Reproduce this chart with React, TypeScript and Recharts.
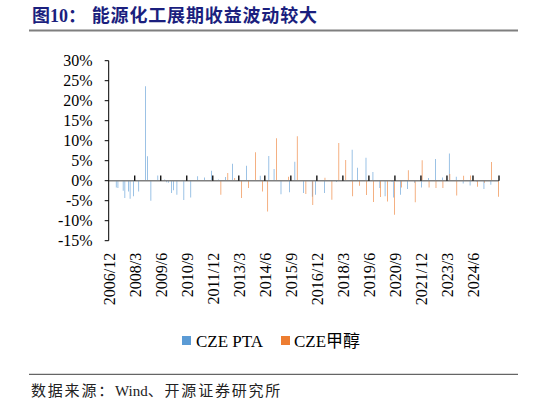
import { BarChart, Bar, XAxis, YAxis, ReferenceLine } from "recharts";

// CZE roll yield, monthly, 2006/12 .. 2025/8 (values in %)
const startYear = 2006;
const startMonth = 12;
const monthCount = 225;

const months: string[] = [];
for (let k = 0; k < monthCount; k++) {
  const m = startMonth - 1 + k;
  months.push(`${startYear + Math.floor(m / 12)}/${(m % 12) + 1}`);
}

const xTickLabels = [
  "2006/12", "2008/3", "2009/6", "2010/9", "2011/12", "2013/3", "2014/6", "2015/9",
  "2016/12", "2018/3", "2019/6", "2020/9", "2021/12", "2023/3", "2024/6",
];

const yTicks = [-15, -10, -5, 0, 5, 10, 15, 20, 25, 30];

const seriesNames = ["CZE PTA", "CZE甲醇"];

// one row = 15 months
const ptaValues = [
  0, 0, 0, 0, -1.7, -1.8, 0, 0, -2.5, -4.3, 0, -2.7, -4.5, 0, -3.9,
  0, 0, -2.7, 0, 0, 0, 23.6, 6.1, 0, -5.0, 0, 0, 0, 1.3, 0,
  0, 0, 0.3, -0.4, -0.5, 0, -3.1, -2.4, 0, -3.5, 0, 0, 0, -4.8, 0,
  0, 0, -4.2, 0, 0, 0, 1.1, 0, 0, 0, 0.8, 0, 0, 0, 2.5,
  0, 0, 0, 0.3, 0, 0, 0, 0.9, 0, 0, 0, 4.25, 0, 0, 0,
  0, 0, 0, 0, 3.75, 0, 0, 0, 0, 0, 0, 0, 1.25, 0, 0,
  0, 0, 6.2, 0, 0, 2.9, 0, 0, 0, -3.4, 0, 0, 0, 0, -2.9,
  0, 0, 4.75, 0, 0, 0, 0, -3.1, 0, 0, 0, 0, -4.0, 0, -3.5,
  0, 0, 0, 0, -3.1, 0, 0, 0, 0, 0, 0, -0.3, 0, 0, 0,
  0, 0, 0, 0, 0, 7.75, 0, 0, 3.25, 0, 0, 0, 0, 5.75, 0,
  0, 0, 2.2, 0, 0, 0, -1.8, 0, 0, -3.9, 0, 0, 0, -0.3, -4.2,
  0, 0, 0, -3.5, 0, 0, 0, -2.1, 0, 0, 0, -0.5, 0, 0, 0,
  -1.7, 0, 0, 0, 0.7, 0, 0, 0, 5.4, 0, 0, 0, 0.8, 0, 0,
  0, 6.8, 0, 0, 0, 1.0, 0, 0, 0, -0.7, 0, 0, 0, -1.2, 0,
  0, 0, -0.3, 0, 0, 0, -2.1, 0, 0, 0, -1.0, 0, 0, 0, 0,
];

const methanolValues = [
  0, 0, 0, 0, 0, 0, 0, 0, 0, 0, 0, 0, 0, 0, 0,
  0, 0, 0, 0, 0, 0, 0, 0, 0, 0, 0, 0, 0, 0, 0,
  0, 0, 0, 0, 0, 0, 0, 0, 0, 0, 0, 0, 0, 0, 0,
  0, 0, 0, 0, 0, 0, 0, 0, 0, 0, 0, 0, 0, 0, 0,
  0, 0, 0, 0, -3.5, 0, 0, 0, 1.9, 0, 0, 0, 0.7, 0, 0,
  0, -4.3, 0, 0, 0, -1.8, 0, 0, 0, 7.1, 0, 0, 0, -2.7, 0,
  0, -7.7, 0, 0, 0, 0, 10.6, 0, 0, 0, 0, 0, 0, 1.0, 0,
  0, 0, 0, 11.1, 0, 0, 0, 0, -3.3, 0, 0, 0, -6.1, 0, 0,
  0, 0, 0, 0, 0.75, 0, 0, 0, -4.75, 0, 0, 0, 9.4, 0, 0,
  0, 5.2, 0, 0, 0, -3.9, 0, 0, 0, -1.25, 0, 0, 0, -3.6, 0,
  0, 0, -5.3, 0, 0, 0, -4.1, 0, 0, 0, -5.2, 0, 0, 0, -8.5,
  0, 0, 0, -1.7, 0, 0, 0, 2.6, 0, 0, 0, -5.4, 0, 0, 0,
  5.1, 0, 0, 0, -1.7, 0, 0, 0, -1.8, 0, 0, 0, -1.8, 0, 0,
  0, 1.7, 0, 0, 0, -3.7, 0, 0, 0, 1.25, 0, 0, 0, 1.3, 0,
  0, 0, -1.5, 0, 0, 0, -0.5, 0, 0, 0, 4.7, 0, 0, 0, -4.0,
];

const data = months.map((month, i) => ({
  month,
  pta: ptaValues[i],
  methanol: methanolValues[i],
}));

const BLUE = "#5B9BD5";
const ORANGE = "#ED7D31";
const SERIF = '"Liberation Serif", "Times New Roman", serif';
const TITLE_FONT = '"Liberation Serif", "Noto Sans CJK SC", serif';

function XTick(props: any) {
  const { x, y, payload } = props;
  return (
    <text
      x={x}
      y={y}
      transform={`rotate(-90, ${x}, ${y})`}
      textAnchor="end"
      dominantBaseline="central"
      fontFamily={SERIF}
      fontSize={16}
      fill="#000"
    >
      {payload.value}
    </text>
  );
}

export default function App() {
  return (
    <div style={{ position: "absolute", left: 0, top: 0, width: 546, height: 405, background: "#fff" }}>
      <svg width={546} height={405} style={{ position: "absolute", left: 0, top: 0 }}>
        <text x={32} y={22} fontFamily={TITLE_FONT} fontWeight="bold" fontSize={18} fill="#1B1F7E">
          图10：
        </text>
        <text x={91.7} y={22} fontFamily={TITLE_FONT} fontWeight="bold" fontSize={18} letterSpacing={0.85} fill="#1B1F7E">
          能源化工展期收益波动较大
        </text>
        <rect x={29} y={29.5} width={489} height={2} fill="#7f7f7f" />

        <rect x={182} y={336} width={9} height={9} fill={BLUE} />
        <text x={196} y={346.5} fontFamily={TITLE_FONT} fontSize={17} fill="#000">
          {seriesNames[0]}
        </text>
        <rect x={281} y={336} width={9} height={9} fill={ORANGE} />
        <text x={294} y={346.5} fontFamily={TITLE_FONT} fontSize={17} fill="#000">
          {seriesNames[1]}
        </text>

        <rect x={29} y={373.8} width={489} height={1} fill="#404040" />
        <text x={31} y={396} fontFamily={TITLE_FONT} fontSize={15} fill="#222">
          <tspan letterSpacing={1.8}>数据来源：</tspan>
          <tspan>Wind</tspan>
          <tspan letterSpacing={1.8}>、开源证券研究所</tspan>
        </text>
      </svg>

      <div style={{ position: "absolute", left: 0, top: 0, width: 546, height: 330 }}>
        <BarChart
          width={546}
          height={330}
          data={data}
          margin={{ top: 60.7, right: 47, bottom: 0, left: 0 }}
          barCategoryGap="15%"
          barGap={0}
        >
          <XAxis
            dataKey="month"
            height={89.3}
            axisLine={false}
            tickLine={false}
            ticks={xTickLabels}
            interval={0}
            tickSize={0}
            tickMargin={12}
            tick={<XTick />}
          />
          <YAxis
            width={108.7}
            domain={[-15, 30]}
            ticks={yTicks}
            interval={0}
            tickFormatter={(v: number) => `${v}%`}
            axisLine={{ stroke: "#000", strokeWidth: 1 }}
            tickLine={{ stroke: "#000", strokeWidth: 1 }}
            tickSize={4}
            tickMargin={12}
            tick={{ fontFamily: SERIF, fontSize: 16, fill: "#000" }}
          />
          <Bar dataKey="pta" name={seriesNames[0]} fill={BLUE} isAnimationActive={false} />
          <Bar dataKey="methanol" name={seriesNames[1]} fill={ORANGE} isAnimationActive={false} />
          <ReferenceLine y={0} stroke="#808080" strokeWidth={1.5} />
          {xTickLabels.slice(1).map((label) => (
            <ReferenceLine
              key={label}
              segment={[{ x: label, y: 0 }, { x: label, y: 1.3 }]}
              position="start"
              stroke="#000"
              strokeWidth={1.3}
            />
          ))}
          <ReferenceLine
            segment={[{ x: months[monthCount - 1], y: 0 }, { x: months[monthCount - 1], y: 1.3 }]}
            position="end"
            stroke="#000"
            strokeWidth={1.3}
          />
        </BarChart>
      </div>
    </div>
  );
}
